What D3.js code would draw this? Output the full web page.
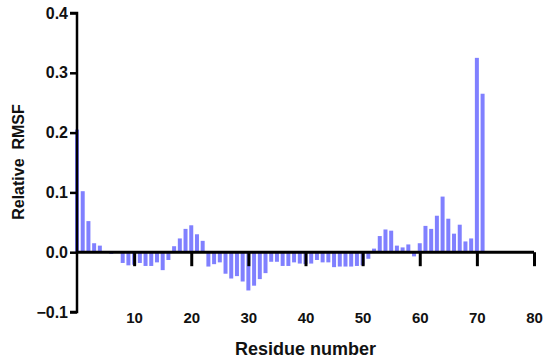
<!DOCTYPE html>
<html>
<head>
<meta charset="utf-8">
<script src="https://cdn.jsdelivr.net/npm/d3@7"></script>
<style>
  body { margin: 0; background: #fff; }
  svg text { font-family: Arial, "Liberation Sans", sans-serif; font-weight: bold; fill: #111; }
</style>
</head>
<body>
<div id="chartArea"></div>
<script>
// relative RMSF per residue
const residues = d3.range(0, 72);
const rmsf = [
  0.205, 0.102, 0.052, 0.015, 0.011, 0.000, -0.003, 0.000, -0.018, -0.022,
  -0.021, -0.018, -0.023, -0.023, -0.017, -0.030, -0.013, 0.010, 0.023, 0.039,
  0.045, 0.030, 0.019, -0.024, -0.020, -0.017, -0.036, -0.044, -0.040, -0.049,
  -0.064, -0.056, -0.045, -0.035, -0.016, -0.016, -0.023, -0.023, -0.017, -0.019,
  -0.020, -0.019, -0.013, -0.017, -0.017, -0.025, -0.024, -0.024, -0.024, -0.023,
  -0.022, -0.011, 0.006, 0.027, 0.038, 0.036, 0.011, 0.008, 0.013, -0.007,
  0.015, 0.044, 0.039, 0.061, 0.093, 0.056, 0.031, 0.046, 0.018, 0.023,
  0.325, 0.265
];
const xTicks = [10, 20, 30, 40, 50, 60, 70, 80];
const yTicks = [-0.1, 0.0, 0.1, 0.2, 0.3, 0.4];

const W = 550, H = 364;
const svg = d3.select("#chartArea").append("svg")
  .attr("width", W)
  .attr("height", H);

const x = d3.scaleLinear().domain([0, 80]).range([77, 534]);
const y = d3.scaleLinear().domain([-0.1, 0.4]).range([312, 13]);
const barW = (x(1) - x(0)) * 0.7;

// bars
svg.append("g").selectAll("rect")
  .data(residues)
  .enter()
  .append("rect")
  .attr("x", d => x(d) - barW / 2)
  .attr("width", barW)
  .attr("y", (d, i) => y(Math.max(0, rmsf[i])))
  .attr("height", (d, i) => Math.abs(y(rmsf[i]) - y(0)))
  .attr("fill", "#8080ff");

// y axis
const yAxis = svg.append("g")
  .attr("transform", "translate(" + x(0) + ",0)")
  .call(d3.axisLeft(y).tickValues(yTicks).tickFormat(d3.format(".1f")).tickSize(7).tickPadding(2));
yAxis.select(".domain").attr("stroke", "#000").attr("stroke-width", 2.5)
  .attr("d", "M-7," + y(0.4) + "H0V" + y(-0.1) + "H-7");
yAxis.selectAll(".tick line").attr("stroke", "#000").attr("stroke-width", 2.5);
yAxis.selectAll(".tick text").attr("font-size", 16).attr("fill", "#111");

// x axis sits on the zero line, labels pushed down to the bottom
const xAxis = svg.append("g")
  .attr("transform", "translate(0," + y(0) + ")")
  .call(d3.axisBottom(x).tickValues(xTicks).tickSize(14).tickPadding(46));
xAxis.select(".domain").attr("stroke", "#000").attr("stroke-width", 3)
  .attr("d", "M" + x(0) + ",0H" + x(80));
xAxis.selectAll(".tick line").attr("stroke", "#000").attr("stroke-width", 3);
xAxis.selectAll(".tick text").attr("font-size", 15).attr("fill", "#111");

// titles
svg.append("text")
  .attr("x", (x(0) + x(80)) / 2)
  .attr("y", 355)
  .attr("text-anchor", "middle")
  .attr("font-size", 18)
  .text("Residue number");

svg.append("text")
  .attr("transform", "translate(24,162) rotate(-90)")
  .attr("text-anchor", "middle")
  .attr("font-size", 16)
  .attr("xml:space", "preserve")
  .style("white-space", "pre")
  .text("Relative  RMSF");
</script>
</body>
</html>
